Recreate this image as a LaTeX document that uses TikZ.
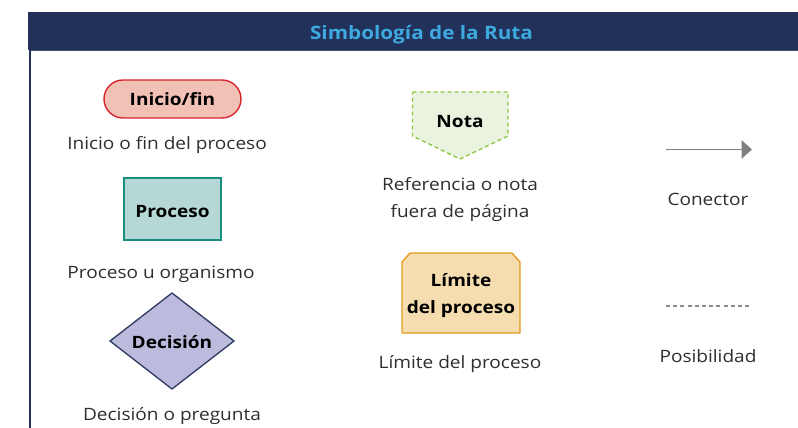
\documentclass[tikz,border=0pt]{standalone}
\usepackage{fontspec}
\setmainfont[Ligatures=NoCommon, FakeStretch=1.12]{Open Sans}
\usetikzlibrary{shapes.geometric,arrows.meta}
\definecolor{navy}{HTML}{22315A}
\definecolor{titleblue}{HTML}{3DA9DE}
\definecolor{pinkfill}{HTML}{F2C1B6}
\definecolor{redline}{HTML}{D9232E}
\definecolor{tealfill}{HTML}{B5D8D6}
\definecolor{tealline}{HTML}{17907F}
\definecolor{lilac}{HTML}{BDBBDD}
\definecolor{diaedge}{HTML}{2B3A5E}
\definecolor{notefill}{HTML}{EAF3DF}
\definecolor{noteline}{HTML}{8CC63F}
\definecolor{limfill}{HTML}{F5DDB0}
\definecolor{limline}{HTML}{E39B1F}
\definecolor{greyline}{HTML}{808080}
\definecolor{textgrey}{HTML}{2E2E2E}
\tikzset{
  lbl/.style={font=\fontsize{17}{27}\selectfont, text=textgrey, align=center, inner sep=0pt, anchor=base},
  sym/.style={font=\bfseries\fontsize{17}{27}\selectfont, text=black, align=center, inner sep=0pt, anchor=base},
}
\begin{document}
\begin{tikzpicture}[x=1pt,y=-1pt]
\useasboundingbox (0,0) rectangle (798,428);
% header
\fill[navy] (28,12) rectangle (798,50);
\draw[color=navy!60!gray, line width=1pt] (30,50.5) -- (798,50.5);
\draw[navy, line width=2pt] (29.5,50) -- (29.5,428);
\node[font=\bfseries\fontsize{18.5}{22}\selectfont, text=titleblue, inner sep=0pt, anchor=base] (title) at (421.5,40) {Simbología de la Ruta};

% Inicio/fin
\draw[redline, fill=pinkfill, line width=1.4pt, rounded corners=19pt] (104,80) rectangle (241,118);
\node[sym] (ini) at (172.5,105.5) {Inicio/fin};
\node[lbl] (inilbl) at (167,149) {Inicio o fin del proceso};

% Proceso
\draw[tealline, fill=tealfill, line width=1.4pt] (124,178) rectangle (221,240);
\node[sym] (proc) at (172.5,217) {Proceso};
\node[lbl] (proclbl) at (161,278) {Proceso u organismo};

% Decision
\fill[lilac] (110,341) -- (172,293) -- (234,341) -- (172,389) -- cycle;
\draw[diaedge, line width=1.3pt, line join=miter] (110,341) -- (172,293) -- (234,341) -- (172,389) -- cycle;
\node[sym] (dec) at (172,348) {Decisión};
\node[lbl] (declbl) at (172,420) {Decisión o pregunta};

% Nota
\fill[notefill] (412.5,92) -- (508,92) -- (508,136) -- (460,159) -- (412.5,136) -- cycle;
\draw[noteline, line width=1.3pt, dash pattern=on 4pt off 3pt] (412.5,92) -- (508,92) -- (508,136) -- (460,159) -- (412.5,136) -- cycle;
\node[sym] (nota) at (460,127) {Nota};
\node[lbl] (notalbl) at (460,190) {Referencia o nota};
\node[lbl] (notalbl2) at (460,217) {fuera de página};

% Limite
\draw[limline, fill=limfill, line width=1.4pt, line join=round] (402,333) -- (402,262) -- (410,253) -- (512,253) -- (520,262) -- (520,333) -- cycle;
\node[sym] (lim) at (461,286) {Límite};
\node[sym] (lim2) at (461,313) {del proceso};
\node[lbl] (limlbl) at (460,368) {Límite del proceso};

% Conector
\coordinate (ca) at (666,149.5);
\coordinate (cb) at (752,149.5);
\draw[greyline, line width=1.8pt, -{Triangle[length=10.5pt,width=18.5pt]}] (ca) -- (cb);
\node[lbl] (conlbl) at (708,205) {Conector};

% Posibilidad
\coordinate (pa) at (666,306);
\coordinate (pb) at (752,306);
\draw[greyline!90!white, line width=1.7pt, dash pattern=on 4pt off 3.2pt] (pa) -- (pb);
\node[lbl] (poslbl) at (708,362) {Posibilidad};
\end{tikzpicture}
\end{document}
